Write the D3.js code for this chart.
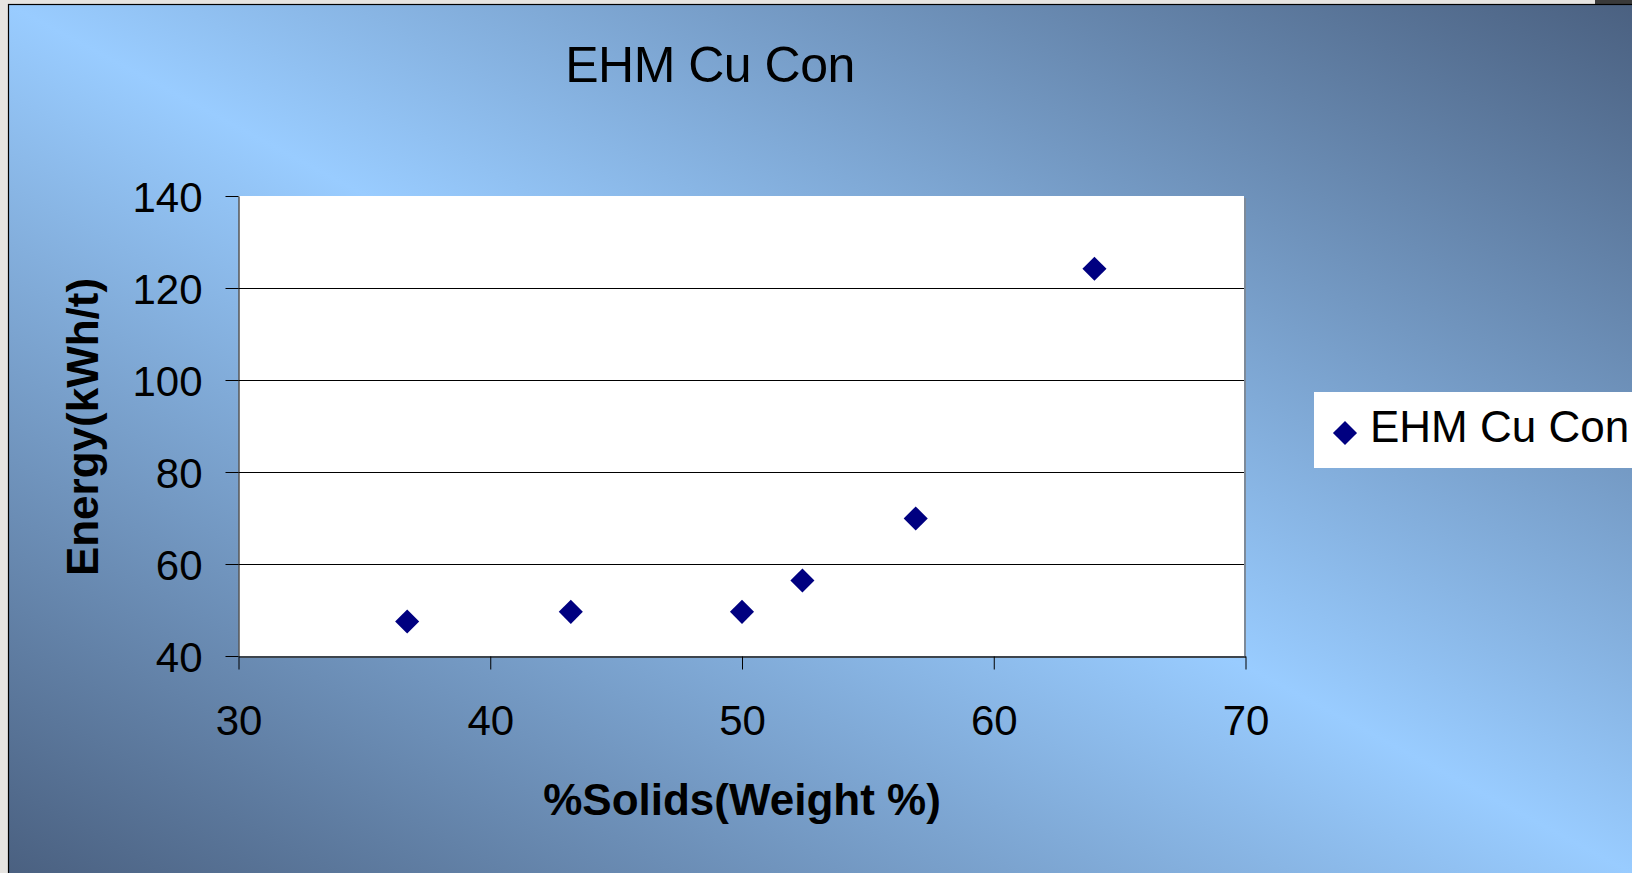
<!DOCTYPE html>
<html>
<head>
<meta charset="utf-8">
<script src="https://cdn.jsdelivr.net/npm/d3@7"></script>
<style>
  body { margin: 0; background: #e6e4e1; overflow: hidden; }
  text { font-family: "Liberation Sans", Arial, sans-serif; fill: #000; }
</style>
</head>
<body>
<div id="chart"></div>
<script>
const seriesName = "EHM Cu Con";
const solids = [36.7, 43.2, 50.0, 52.4, 56.9, 64.0];   // %Solids
const energy = [47.5, 49.6, 49.6, 56.4, 69.9, 124.2];  // kWh/t
const xTicks = [30, 40, 50, 60, 70];
const yTicks = [40, 60, 80, 100, 120, 140];

const width = 1632;
const height = 873;
const plot = { left: 238.5, right: 1245.5, top: 196, bottom: 656 };

const svg = d3.select("#chart")
  .append("svg")
  .attr("width", width)
  .attr("height", height);

// background gradient (dark top-right / bottom-left, light diagonal)
const defs = svg.append("defs");
const grad = defs.append("linearGradient")
  .attr("id", "bg")
  .attr("x1", 0).attr("y1", 1)
  .attr("x2", 1).attr("y2", 0);
grad.append("stop").attr("offset", 0).attr("stop-color", "#4a6080");
grad.append("stop").attr("offset", 0.5).attr("stop-color", "#99ccff");
grad.append("stop").attr("offset", 1).attr("stop-color", "#4a6080");

// dark strip top right
svg.append("rect")
  .attr("x", 1595).attr("y", 0)
  .attr("width", width - 1595).attr("height", 5)
  .attr("fill", "#3a3a3a");

svg.append("rect")
  .attr("x", 8.5).attr("y", 4.5)
  .attr("width", width).attr("height", height)
  .attr("fill", "url(#bg)")
  .attr("stroke", "#000")
  .attr("stroke-width", 1.2);

const x = d3.scaleLinear()
  .domain([30, 70])
  .range([plot.left, plot.right]);

const y = d3.scaleLinear()
  .domain([40, 140])
  .range([plot.bottom, plot.top]);

// plot area + shadow
svg.append("rect")
  .attr("x", plot.left + 2).attr("y", plot.top + 2)
  .attr("width", plot.right - plot.left - 1.5)
  .attr("height", plot.bottom - plot.top)
  .attr("fill", "#7d8a99");
svg.append("rect")
  .attr("x", plot.left).attr("y", plot.top)
  .attr("width", plot.right - plot.left - 1.5)
  .attr("height", plot.bottom - plot.top)
  .attr("fill", "#fff");

// gridlines
svg.append("g")
  .selectAll("line")
  .data(yTicks.filter(d => d > 40 && d < 140))
  .enter()
  .append("line")
  .attr("x1", plot.left)
  .attr("x2", plot.right - 1.5)
  .attr("y1", d => Math.round(y(d)) + 0.5)
  .attr("y2", d => Math.round(y(d)) + 0.5)
  .attr("stroke", "#000")
  .attr("stroke-width", 1);

// X axis
const xAxis = svg.append("g")
  .attr("transform", `translate(0,${plot.bottom + 0.5})`)
  .call(d3.axisBottom(x).tickValues(xTicks).tickSize(13).tickSizeOuter(0).tickPadding(0));
xAxis.select(".domain").attr("stroke", "#000");
xAxis.selectAll(".tick line").attr("stroke", "#000");
xAxis.selectAll(".tick text")
  .attr("y", 78)
  .attr("dy", 0)
  .style("font-size", "42px");

// Y axis
const yAxis = svg.append("g")
  .attr("transform", `translate(${plot.left},0)`)
  .call(d3.axisLeft(y).tickValues(yTicks).tickSize(13).tickSizeOuter(0).tickPadding(23));
yAxis.select(".domain").attr("stroke", "#000");
yAxis.selectAll(".tick line").attr("stroke", "#000");
yAxis.selectAll(".tick text")
  .attr("dy", "0.36em")
  .style("font-size", "42px");
svg.selectAll(".tick text").attr("font-family", null);

// points
const diamond = d3.symbol().type(d3.symbolSquare).size(290);
svg.append("g")
  .selectAll("path")
  .data(solids.map((s, i) => ({ x: s, y: energy[i] })))
  .enter()
  .append("path")
  .attr("d", diamond)
  .attr("transform", d => `translate(${x(d.x)},${y(d.y)}) rotate(45)`)
  .attr("fill", "#000080");

// title
svg.append("text")
  .attr("x", 710).attr("y", 82)
  .attr("text-anchor", "middle")
  .style("font-size", "50px")
  .style("letter-spacing", "-0.5px")
  .text(seriesName);

// axis titles
svg.append("text")
  .attr("x", 742).attr("y", 815)
  .attr("text-anchor", "middle")
  .style("font-size", "44px")
  .style("font-weight", "bold")
  .text("%Solids(Weight %)");

svg.append("text")
  .attr("transform", "translate(98,427) rotate(-90)")
  .attr("text-anchor", "middle")
  .style("font-size", "44px")
  .style("font-weight", "bold")
  .text("Energy(kWh/t)");

// legend
const legend = svg.append("g");
legend.append("rect")
  .attr("x", 1314).attr("y", 392)
  .attr("width", 340).attr("height", 76)
  .attr("fill", "#fff");
legend.append("path")
  .attr("d", diamond)
  .attr("transform", "translate(1345,433) rotate(45)")
  .attr("fill", "#000080");
legend.append("text")
  .attr("x", 1370).attr("y", 442)
  .style("font-size", "44px")
  .text(seriesName);
</script>
</body>
</html>
